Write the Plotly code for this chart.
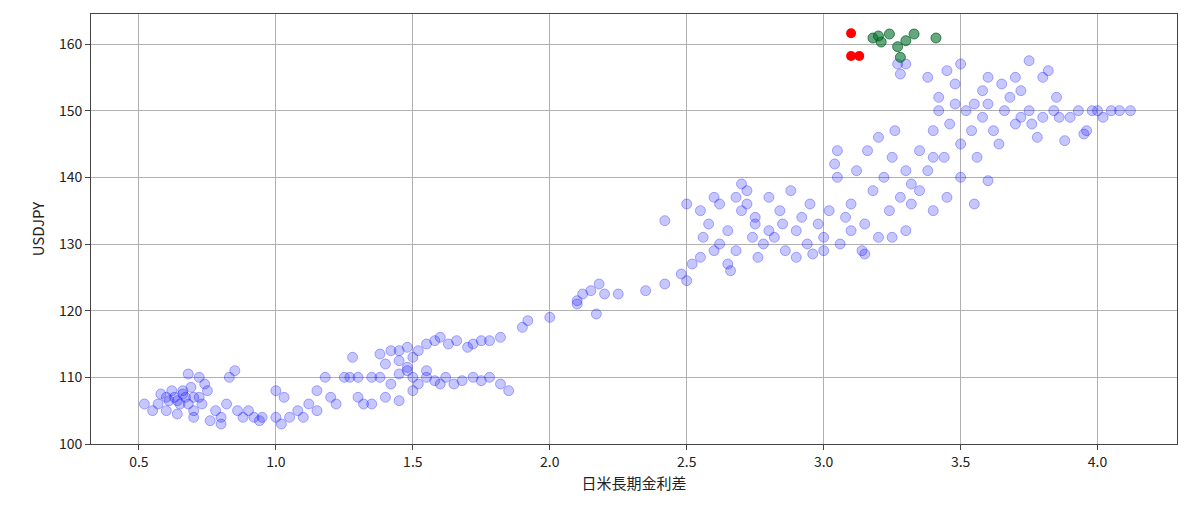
import plotly.graph_objects as go

# blue: history
blue_x = [0.52,0.55,0.57,0.6,0.62,0.63,0.65,0.66,0.67,0.68,0.7,0.72,0.74,0.75,0.68,0.72,0.78,0.8,0.82,0.83,0.85,0.86,0.88,0.9,0.92,0.94,0.95,0.6,0.64,0.7,0.76,0.8,0.58,0.61,0.66,0.69,0.7,0.73,0.64,
          1.0,1.02,1.03,1.05,1.08,1.1,1.12,1.15,1.18,1.2,1.22,1.25,1.27,1.3,1.28,1.32,1.35,1.15,1.0,
          1.38,1.42,1.45,1.48,1.5,1.52,1.55,1.58,1.6,1.63,1.66,1.7,1.72,1.75,1.78,1.82,1.4,1.45,1.48,
          1.38,1.42,1.45,1.48,1.5,1.52,1.55,1.58,1.6,1.62,1.65,1.68,1.72,1.75,1.78,1.82,1.85,1.4,1.45,1.5,1.55,1.35,1.3,
          1.9,1.92,2.0,2.1,2.12,2.15,2.17,2.2,2.25,2.18,2.1,
          2.35,2.42,2.42,2.48,2.5,2.5,2.52,2.55,2.56,2.58,2.6,2.6,2.62,2.55,
          2.62,2.65,2.66,2.68,2.7,2.72,2.74,2.75,2.76,2.78,2.8,2.82,2.84,2.86,2.88,2.9,2.92,2.94,2.95,2.96,2.98,3.0,2.7,2.65,2.72,2.85,2.9,2.75,2.68,2.8,
          3.0,3.02,3.04,3.05,3.06,3.08,3.1,3.12,3.14,3.15,3.16,3.18,3.2,3.2,3.22,3.24,3.25,3.26,3.28,3.3,3.3,3.1,3.05,3.15,3.25,3.32,3.28,3.3,3.27,
          3.32,3.35,3.38,3.4,3.42,3.44,3.45,3.46,3.48,3.5,3.5,3.52,3.54,3.55,3.56,3.58,3.6,3.62,3.64,3.66,3.68,3.7,3.45,3.4,3.5,3.55,3.6,3.38,3.42,3.6,3.65,3.7,3.72,3.75,3.8,3.82,3.75,3.78,3.58,3.48,3.35,3.4,
          3.72,3.76,3.8,3.84,3.86,3.88,3.9,3.93,3.96,3.98,4.0,4.02,4.05,4.08,4.12,3.85,3.95]
blue_y = [106,105,106,107,108,107,106,108,107,106,105,107,109,108,110.5,110,105,104,106,110,111,105,104,105,104,103.5,104,105,104.5,104,103.5,103,107.5,106.5,107.5,108.5,107,106,106.5,
          104,103,107,104,105,104,106,108,110,107,106,110,110,110,113,106,110,105,108,
          113.5,114,114,114.5,113,114,115,115.5,116,115,115.5,114.5,115,115.5,115.5,116,112,112.5,111.5,
          110,109,110.5,111,110,109,110,109.5,109,110,109,109.5,110,109.5,110,109,108,107,106.5,108,111,106,107,
          117.5,118.5,119,121.5,122.5,123,119.5,122.5,122.5,124,121,
          123,124,133.5,125.5,124.5,136,127,128,131,133,129,137,136,135,
          130,132,126,129,135,138,131,133,128,130,137,131,135,129,138,132,134,130,136,128.5,133,131,139,127,136,133,128,134,137,132,
          129,135,142,144,130,134,136,141,129,133,144,138,131,146,140,135,143,147,137,132,141,132,140,128.5,131,136,155.5,157,157,
          139,144,141,147,150,143,156,148,151,145,157,150,147,151,143,149,151,147,145,150,152,148,137,135,140,136,139.5,155,152,155,154,155,153,157.5,155,156,150,146,153,154,138,143,
          149,148,149,150,149,145.5,149,150,147,150,150,149,150,150,150,152,146.5]

# red and green: recent
red_x = [3.10, 3.10, 3.13]
red_y = [161.6, 158.2, 158.2]
green_x = [3.18, 3.24, 3.21, 3.27, 3.30, 3.33, 3.41, 3.28, 3.20]
green_y = [160.9, 161.5, 160.3, 159.6, 160.5, 161.5, 160.9, 158.0, 161.2]

fig = go.Figure()
fig.add_scatter(x=blue_x, y=blue_y, mode="markers", showlegend=False,
                marker=dict(color="rgba(0,0,255,0.22)", size=10, line=dict(color="rgba(0,0,255,0.3)", width=1)))
fig.add_scatter(x=green_x, y=green_y, mode="markers", showlegend=False,
                marker=dict(color="rgba(0,110,40,0.6)", size=10, line=dict(color="rgba(0,90,30,0.7)", width=1)))
fig.add_scatter(x=red_x, y=red_y, mode="markers", showlegend=False,
                marker=dict(color="red", size=10))

ax = dict(showline=True, mirror=True, linecolor="#444", linewidth=1, ticks="outside",
          tickcolor="#444", showgrid=True, gridcolor="#b0b0b0", zeroline=False,
          automargin=False, tickfont=dict(size=14, color="#222"))
fig.update_layout(
    width=1200, height=509, plot_bgcolor="white", paper_bgcolor="white",
    margin=dict(l=83, r=31, t=6, b=73),
    font=dict(family="Noto Sans CJK JP", color="#222"),
    xaxis=dict(ax, range=[0.325, 4.29], dtick=0.5, tickformat=".1f",
               title=dict(text="日米長期金利差", font=dict(size=15), standoff=8)),
    yaxis=dict(ax, range=[100, 164.5], dtick=10,
               title=dict(text="USDJPY", font=dict(size=15), standoff=10)),
)
fig.write_html("out.html")
